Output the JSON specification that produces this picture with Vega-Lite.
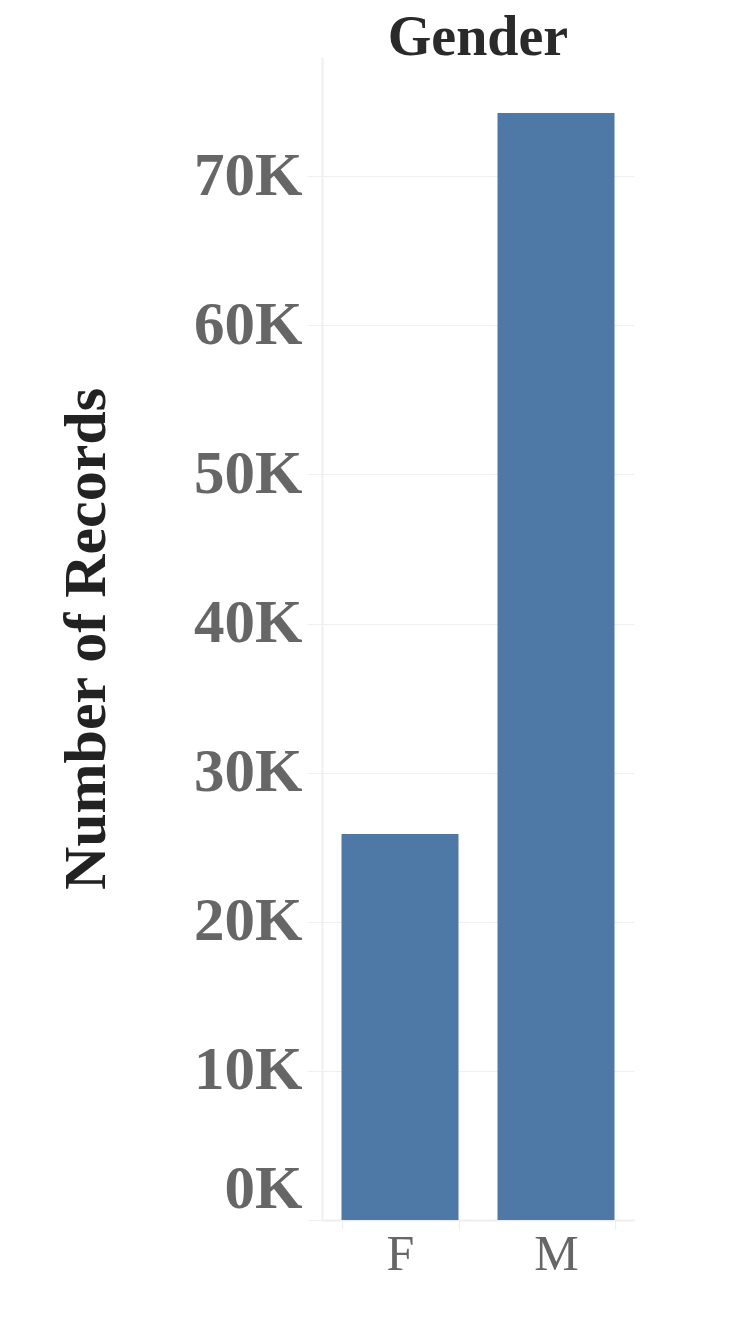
{
  "$schema": "https://vega.github.io/schema/vega-lite/v6.json",
  "autosize": {"type": "none"},
  "width": 312,
  "height": 1163,
  "padding": {"left": 322, "top": 57, "right": 122, "bottom": 98},
  "background": "white",
  "data": {"values": [
    {"Gender": "F", "Number of Records": 25880},
    {"Gender": "M", "Number of Records": 74250}
  ]},
  "title": {
    "text": "Gender",
    "font": "Liberation Serif",
    "fontWeight": "bold",
    "fontSize": 56,
    "color": "#2a2a2a",
    "anchor": "middle",
    "offset": -10
  },
  "mark": {"type": "bar", "color": "#4e79a7"},
  "encoding": {
    "x": {
      "field": "Gender",
      "type": "nominal",
      "scale": {"paddingInner": 0.25, "paddingOuter": 0.125},
      "axis": {
        "title": null,
        "labelAngle": 0,
        "labelFont": "Liberation Serif",
        "labelFontSize": 50,
        "labelColor": "#666666",
        "labelPadding": 0,
        "tickBand": "extent",
        "tickSize": 9,
        "tickColor": "#eeeeee",
        "domainColor": "#eeeeee",
        "domainWidth": 2
      }
    },
    "y": {
      "field": "Number of Records",
      "type": "quantitative",
      "scale": {"domain": [0, 78000], "nice": false, "zero": true},
      "axis": {
        "title": "Number of Records",
        "titleFont": "Liberation Serif",
        "titleFontWeight": "bold",
        "titleFontSize": 60,
        "titleColor": "#222222",
        "titlePadding": 76,
        "values": [0, 10000, 20000, 30000, 40000, 50000, 60000, 70000],
        "labelExpr": "datum.value / 1000 + 'K'",
        "labelFont": "Liberation Serif",
        "labelFontWeight": "bold",
        "labelFontSize": 61,
        "labelColor": "#666666",
        "labelPadding": 5,
        "labelFlush": true,
        "tickSize": 15,
        "tickColor": "#efefef",
        "gridColor": "#efefef",
        "domainColor": "#efefef",
        "domainWidth": 2
      }
    }
  },
  "config": {"view": {"stroke": null}}
}
